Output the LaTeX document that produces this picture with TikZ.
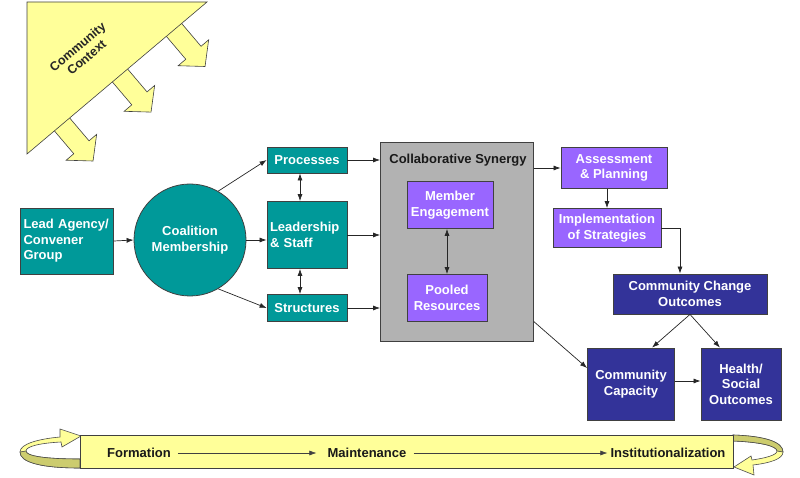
\documentclass[tikz,border=0pt]{standalone}
\usepackage{fontspec}
\setmainfont{Liberation Sans}
\usepackage{tikz}
\usetikzlibrary{shapes,arrows,arrows.meta,positioning,calc}
\definecolor{tealfill}{RGB}{0,153,153}
\definecolor{violetfill}{RGB}{153,102,255}
\definecolor{navyfill}{RGB}{51,51,153}
\definecolor{greyfill}{RGB}{178,178,178}
\definecolor{paleyellow}{RGB}{255,255,153}
\definecolor{ribbonshade}{RGB}{204,204,110}

\begin{document}
\begin{tikzpicture}[x=1pt, y=-1pt, font=\fontsize{13}{15.5}\selectfont\bfseries]
  \tikzstyle{box}=[draw=black!75, line width=0.8pt, text=white, inner sep=2pt, align=center]
  \tikzstyle{tealbox}=[box, fill=tealfill]
  \tikzstyle{violetbox}=[box, fill=violetfill]
  \tikzstyle{navybox}=[box, fill=navyfill]
  \tikzstyle{edge}=[-{Latex[length=7pt,width=5pt]}, line width=0.7pt, black!85]
  \tikzstyle{twoway}=[{Latex[length=7pt,width=5pt]}-{Latex[length=7pt,width=5pt]}, line width=0.7pt, black!85]
  \tikzstyle{stage}=[text=black!90, inner sep=3pt]
  \tikzstyle{ribbon}=[draw=black!70, line width=0.6pt]

  \useasboundingbox (0,0) rectangle (800,478);

  % Contexto comunitario: flechas y triangulo
  \foreach \px/\py in {62/124.4, 120/75.5, 174/29.9} {
    \begin{scope}[shift={(\px,\py)}, rotate=-49.7]
      \filldraw[fill=paleyellow, draw=black!75, line width=0.6pt]
        (-3,-10) -- (30,-10) -- (30,-20) -- (48,0) -- (30,20) -- (30,10) -- (-3,10) -- cycle;
    \end{scope}
  }
  \filldraw[fill=paleyellow, draw=black!75, line width=0.6pt] (27,2) -- (207,2) -- (27,154) -- cycle;
  \node[text=black!85, rotate=40.3, align=center, font=\fontsize{12.5}{14}\selectfont\bfseries] (context) at (82,52) {Community\\Context};

  % Nodos
  \node[tealbox, minimum width=93pt, minimum height=66pt, text width=87pt, align=left] (lead) at (67,241) {Lead Agency/\\Convener\\Group};
  \node[tealbox, circle, minimum size=112pt] (coal) at (190,240) {Coalition\\Membership};
  \node[tealbox, minimum width=80pt, minimum height=26pt] (proc) at (307,160) {Processes};
  \node[tealbox, minimum width=80pt, minimum height=67pt, text width=74pt, align=left] (leader) at (307,235) {Leadership\\\& Staff};
  \node[tealbox, minimum width=80pt, minimum height=27pt] (struct) at (307,308) {Structures};

  \node[box, fill=greyfill, minimum width=153pt, minimum height=199pt] (syn) at (457,242) {};
  \node[text=black!90] (syntitle) at (458,160) {Collaborative Synergy};
  \node[violetbox, minimum width=86pt, minimum height=47pt] (member) at (450,205) {Member\\Engagement};
  \node[violetbox, minimum width=80pt, minimum height=47pt] (pooled) at (447,298) {Pooled\\Resources};

  \node[violetbox, minimum width=106pt, minimum height=41pt] (assess) at (614,168) {Assessment\\\& Planning};
  \node[violetbox, minimum width=108pt, minimum height=39pt] (impl) at (607,228) {Implementation\\of Strategies};
  \node[navybox, minimum width=154pt, minimum height=40pt] (cco) at (690,294) {Community Change\\Outcomes};
  \node[navybox, minimum width=87pt, minimum height=72pt] (cap) at (631,384) {Community\\Capacity};
  \node[navybox, minimum width=80pt, minimum height=72pt] (health) at (741,384) {Health/\\Social\\Outcomes};

  % Conexiones
  \draw[edge] (lead.east) -- (coal.west);
  \draw[edge] (coal.60) -- (proc.west);
  \draw[edge] (coal.east) -- (leader.west |- coal.east);
  \draw[edge] (coal.-60) -- (struct.west);
  \draw[twoway] ([xshift=-7pt]proc.south) -- ([xshift=-7pt]leader.north);
  \draw[twoway] ([xshift=-7pt]leader.south) -- ([xshift=-7pt]struct.north);
  \draw[edge] (proc.east) -- (proc -| syn.west);
  \draw[edge] (leader.east) -- (leader -| syn.west);
  \draw[edge] (struct.east) -- (struct -| syn.west);
  \draw[twoway] (pooled.north |- member.south) -- (pooled.north);
  \draw[edge] (syn.east |- assess) -- (assess.west);
  \draw[edge] (syn.-46) -- (cap.160);
  \draw[edge] (assess.south -| impl.north) -- (impl.north);
  \draw[edge] (impl.east) -| ([xshift=-10pt]cco.north);
  \draw[edge] (cco.south) -- (cap.60);
  \draw[edge] (cco.south) -- (health.120);
  \draw[edge] (cap.east |- 0,381) -- (health.west |- 0,381);

  % Etapas: cintas curvas y banda
  \filldraw[ribbon, fill=paleyellow] (80,468) .. controls (40,468) and (20,462) .. (20,452)
    .. controls (20,444) and (38,439) .. (60,437) -- (60,429) -- (81,436) -- (62,447) -- (61,442)
    .. controls (42,443) and (26,446) .. (26,451) .. controls (26,456) and (45,459) .. (80,459) -- cycle;
  \filldraw[ribbon, fill=ribbonshade] (80,468) .. controls (40,468) and (20,462) .. (20,452)
    -- (26,451) .. controls (26,456) and (45,459) .. (80,459) -- cycle;
  \filldraw[ribbon, fill=paleyellow] (733,435) .. controls (765,436) and (783,442) .. (783,452)
    .. controls (783,459) and (770,463) .. (753,465) -- (754,475) -- (734,467) -- (751,456) -- (752,460)
    .. controls (766,458) and (777,455) .. (777,451) .. controls (777,446) and (760,442) .. (733,441) -- cycle;
  \filldraw[ribbon, fill=ribbonshade] (733,435) .. controls (765,436) and (783,442) .. (783,452)
    -- (777,451) .. controls (777,446) and (760,442) .. (733,441) -- cycle;
  \node[draw=black!75, line width=0.7pt, fill=paleyellow, minimum width=653pt, minimum height=33pt] (band) at (406.5,451.5) {};
  \node[stage] (form) at (139,453) {Formation};
  \node[stage] (maint) at (367,453) {Maintenance};
  \node[stage] (inst) at (668,453) {Institutionalization};
  \draw[edge, line width=0.6pt, black!75, shorten <=4pt, shorten >=8pt] (form) -- (maint);
  \draw[edge, line width=0.6pt, black!75, shorten <=4pt] (maint) -- (inst);
\end{tikzpicture}
\end{document}
